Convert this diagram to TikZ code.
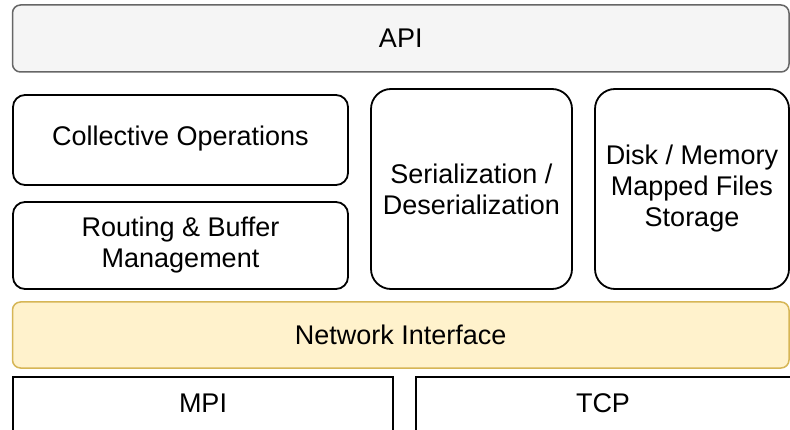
\documentclass[tikz,border=0pt]{standalone}
\usepackage{fontspec}
\setmainfont{Liberation Sans}
\definecolor{netline}{RGB}{214,182,86}
\definecolor{netfill}{RGB}{255,242,204}
\begin{document}
\begin{tikzpicture}[x=1pt,y=-1pt,
  every node/.style={font=\fontsize{27}{31}\selectfont, align=center, inner sep=0pt},
  layer/.style={draw=black, line width=1.8pt},
  apibox/.style={draw=black!60, fill=black!4, line width=1.5pt, rounded corners=8pt},
  netbox/.style={draw=netline, fill=netfill, line width=1.5pt, rounded corners=8pt}]
  \useasboundingbox (0,0) rectangle (790,430);
  \clip (0,0) rectangle (790,430);

  % top API layer
  \draw[apibox] (12.5,5) rectangle (789,72);
  \node (api) at (400.75,38.5) {API};

  % middle layer components
  \draw[layer, rounded corners=12pt] (13,95) rectangle (348,185);
  \node (coll) at (180.5,139) {Collective Operations};

  \draw[layer, rounded corners=12pt] (13,202) rectangle (348,289);
  \node (route) at (180.5,245.5) {Routing \& Buffer\\Management};

  \draw[layer, rounded corners=20pt] (371,89) rectangle (572,289);
  \node (ser) at (471.5,189) {Serialization /\\Deserialization};

  \draw[layer, rounded corners=20pt] (595,89) rectangle (789,289);
  \node (disk) at (692,189) {Disk / Memory\\Mapped Files\\Storage};

  % network interface
  \draw[netbox] (12.5,302) rectangle (789,368);
  \node (net) at (400.75,335) {Network Interface};

  % transports
  \draw[layer] (13,377) rectangle (393,440);
  \node (mpi) at (203,403) {MPI};

  \draw[layer] (416,377) rectangle (800,440);
  \node (tcp) at (603,403) {TCP};
\end{tikzpicture}
\end{document}
